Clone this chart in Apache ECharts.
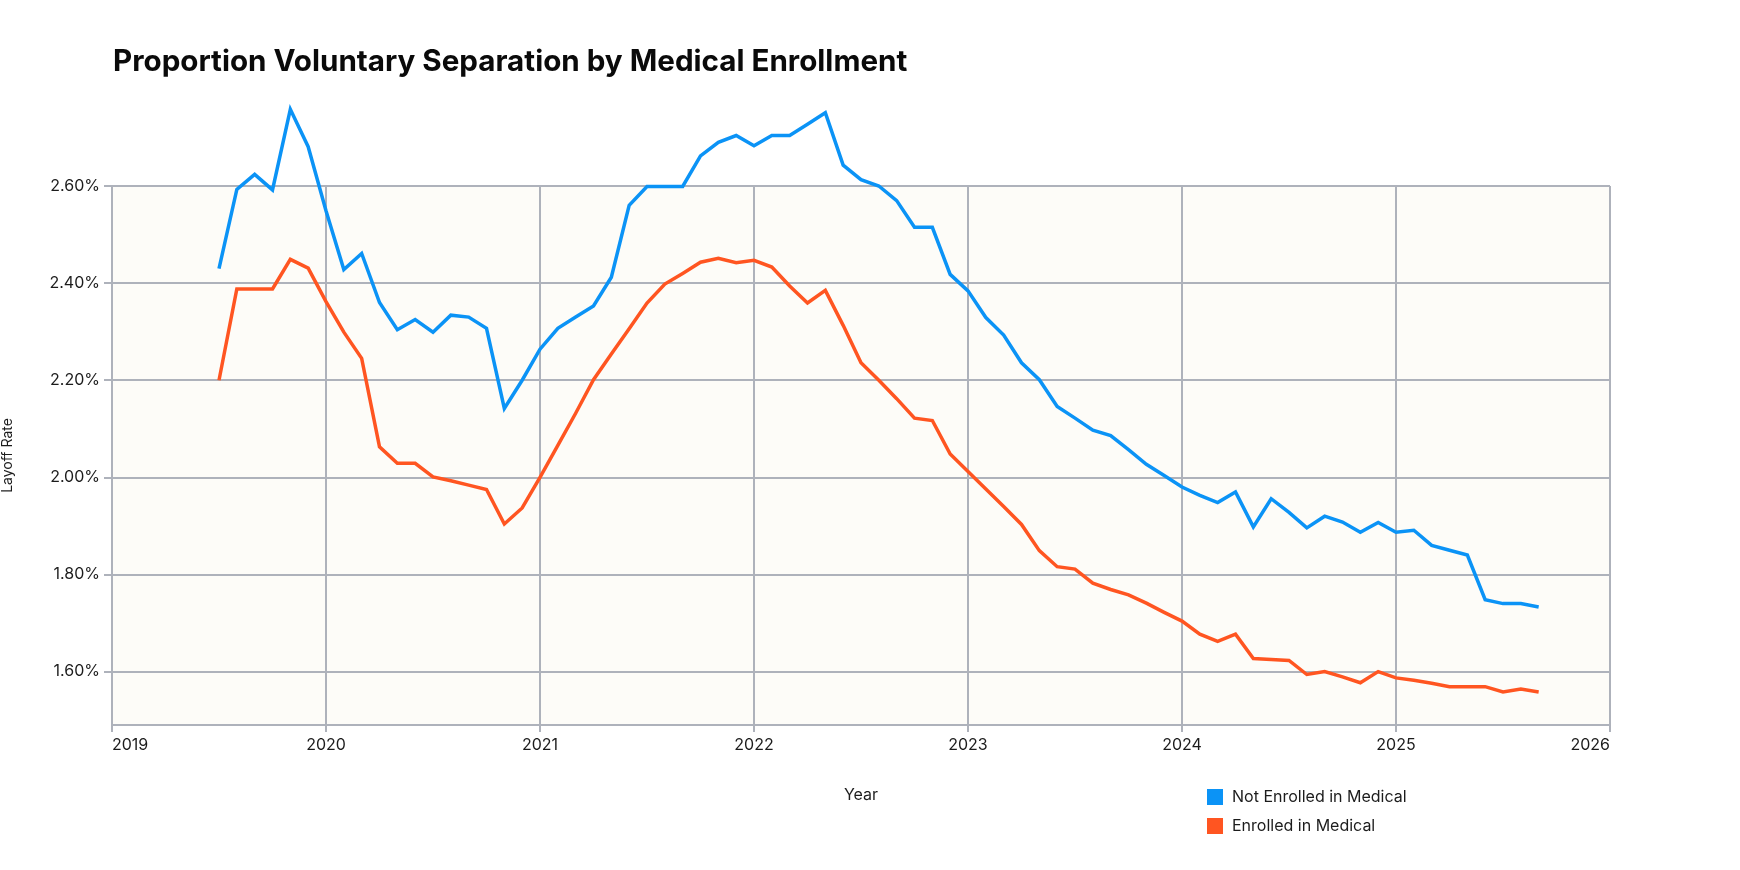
<!DOCTYPE html>
<html><head><meta charset="utf-8">
<script src="https://cdn.jsdelivr.net/npm/echarts@6/dist/echarts.min.js"></script>
<style>html,body{margin:0;padding:0;background:#fff}#c{width:1740px;height:870px}</style>
</head><body><div id="c"></div>
<script>
const months = [
 '2019-07','2019-08','2019-09','2019-10','2019-11','2019-12',
 '2020-01','2020-02','2020-03','2020-04','2020-05','2020-06','2020-07','2020-08','2020-09','2020-10','2020-11','2020-12',
 '2021-01','2021-02','2021-03','2021-04','2021-05','2021-06','2021-07','2021-08','2021-09','2021-10','2021-11','2021-12',
 '2022-01','2022-02','2022-03','2022-04','2022-05','2022-06','2022-07','2022-08','2022-09','2022-10','2022-11','2022-12',
 '2023-01','2023-02','2023-03','2023-04','2023-05','2023-06','2023-07','2023-08','2023-09','2023-10','2023-11','2023-12',
 '2024-01','2024-02','2024-03','2024-04','2024-05','2024-06','2024-07','2024-08','2024-09','2024-10','2024-11','2024-12',
 '2025-01','2025-02','2025-03','2025-04','2025-05','2025-06','2025-07','2025-08','2025-09'
];
const notEnrolled = [
 2.430,2.593,2.624,2.592,2.758,2.681,
 2.549,2.428,2.461,2.360,2.304,2.325,2.299,2.334,2.330,2.307,2.142,2.200,
 2.264,2.307,2.330,2.353,2.412,2.560,2.599,2.599,2.599,2.662,2.690,2.704,
 2.683,2.704,2.704,2.727,2.751,2.643,2.613,2.600,2.570,2.515,2.515,2.418,
 2.384,2.329,2.293,2.236,2.201,2.146,2.122,2.097,2.086,2.057,2.027,2.004,
 1.980,1.963,1.948,1.970,1.898,1.956,1.928,1.896,1.920,1.908,1.887,1.907,
 1.887,1.891,1.860,1.850,1.840,1.748,1.740,1.740,1.733
];
const enrolled = [
 2.200,2.388,2.388,2.388,2.449,2.431,
 2.362,2.299,2.245,2.063,2.029,2.029,2.001,1.993,1.984,1.975,1.904,1.937,
 2.000,2.066,2.132,2.201,2.254,2.306,2.359,2.398,2.420,2.443,2.451,2.442,
 2.447,2.433,2.394,2.359,2.385,2.313,2.236,2.200,2.162,2.122,2.117,2.048,
 2.012,1.976,1.940,1.903,1.849,1.816,1.811,1.782,1.769,1.758,1.741,1.722,
 1.704,1.677,1.662,1.677,1.627,1.625,1.623,1.594,1.600,1.589,1.577,1.600,
 1.587,1.582,1.576,1.569,1.569,1.569,1.558,1.564,1.558
];
const yearLabels = ['2019','2020','2021','2022','2023','2024','2025','2026'];
const rateTicks = [1.6, 1.8, 2.0, 2.2, 2.4, 2.6];
const seriesNames = ['Not Enrolled in Medical', 'Enrolled in Medical'];
const seriesColors = ['#0b93f6', '#ff5521'];

const toYear = m => { const p = m.split('-').map(Number); return p[0] + (p[1] - 1) / 12; };
const pairs = vals => months.map((m, i) => [toYear(m), vals[i]]);

const FONT = 'Inter';
const TXT = '#1c1c1c';
const GRID = '#aeb2bb';

const chart = echarts.init(document.getElementById('c'), null, {renderer: 'canvas'});
chart.setOption({
  animation: false,
  backgroundColor: '#ffffff',
  title: {
    text: 'Proportion Voluntary Separation by Medical Enrollment',
    left: 113, top: 47, padding: 0,
    textStyle: {fontSize: 29.6, fontWeight: 'bold', fontFamily: FONT, color: '#0a0a0a'}
  },
  legend: {
    orient: 'vertical', left: 1207, top: 789, padding: 0,
    itemWidth: 16, itemHeight: 16, itemGap: 13, icon: 'rect',
    textStyle: {fontSize: 16, color: TXT, fontFamily: FONT, padding: [0, 0, 0, 4]},
    data: seriesNames
  },
  grid: {
    left: 112, right: 130, top: 186, bottom: 145,
    show: true, backgroundColor: '#fdfcf8', borderWidth: 0,
    outerBoundsMode: 'none'
  },
  xAxis: {
    type: 'value', min: 2019, max: 2026, interval: 1,
    name: 'Year', nameLocation: 'middle', nameGap: 62,
    nameTextStyle: {fontSize: 16, color: TXT, fontFamily: FONT},
    axisLine: {show: true, lineStyle: {color: GRID, width: 2}},
    axisTick: {show: true, length: 7, lineStyle: {color: GRID, width: 2}},
    axisLabel: {
      fontSize: 16, color: TXT, fontFamily: FONT, margin: 12,
      alignMinLabel: 'left', alignMaxLabel: 'right',
      formatter: v => yearLabels[Math.round(v - 2019)] || ''
    },
    splitLine: {show: true, lineStyle: {color: GRID, width: 2}}
  },
  yAxis: {
    type: 'value', min: 1.49, max: 2.6,
    name: 'Layoff Rate', nameLocation: 'middle', nameGap: 97,
    nameTextStyle: {fontSize: 14, color: TXT, fontFamily: FONT},
    axisLine: {show: true, lineStyle: {color: GRID, width: 2}},
    axisTick: {show: true, length: 8, customValues: rateTicks, lineStyle: {color: GRID, width: 2}},
    axisLabel: {
      fontSize: 16, color: TXT, fontFamily: FONT, margin: 12,
      customValues: rateTicks,
      formatter: v => v.toFixed(2) + '%'
    },
    splitLine: {show: true, lineStyle: {color: GRID, width: 2}}
  },
  series: [notEnrolled, enrolled].map((vals, i) => ({
    name: seriesNames[i], type: 'line', data: pairs(vals),
    symbol: 'none', showSymbol: false, clip: false,
    lineStyle: {width: 3.5, color: seriesColors[i], join: 'miter'},
    itemStyle: {color: seriesColors[i]},
    emphasis: {disabled: true}
  }))
});
</script>
</body></html>
